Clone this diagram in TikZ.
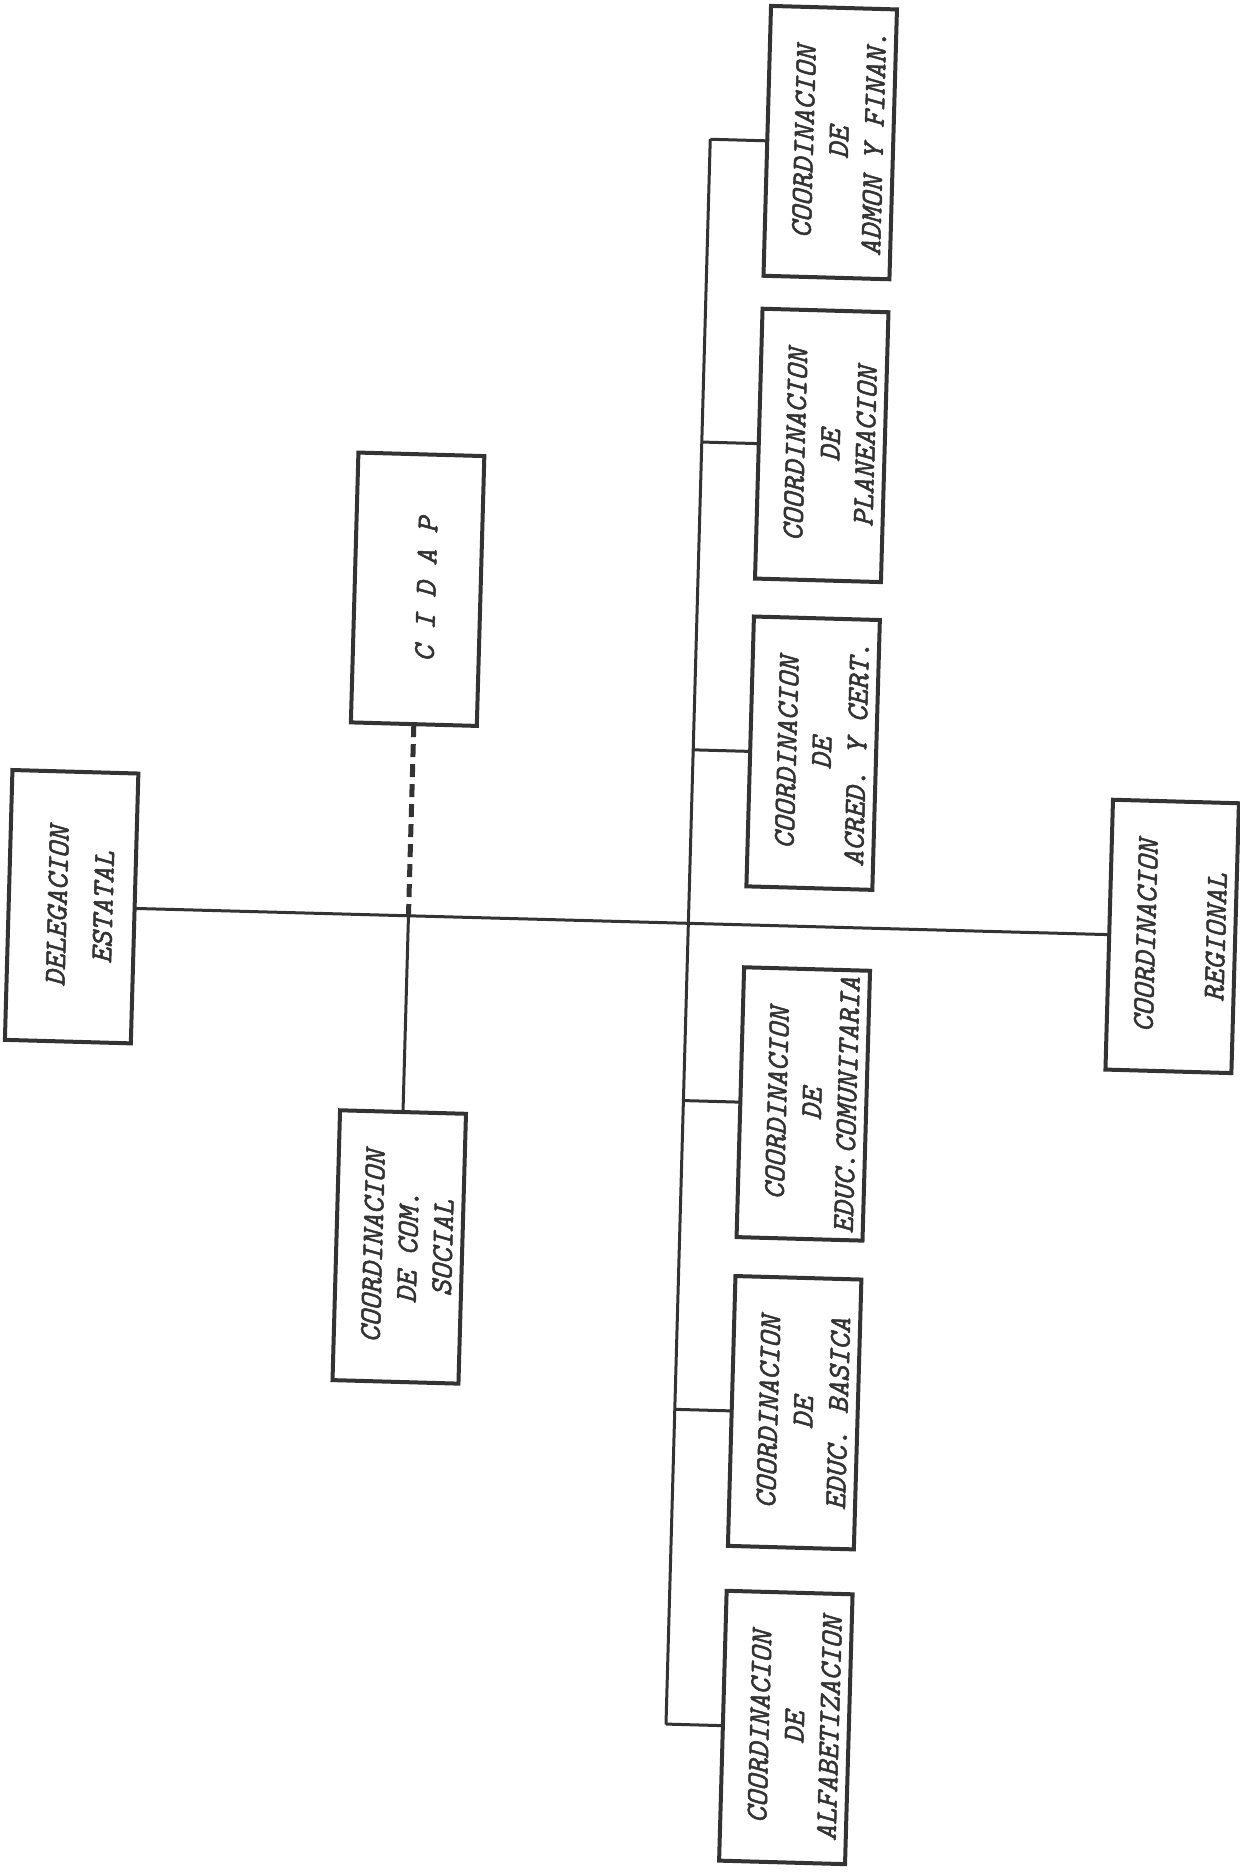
\documentclass[tikz,border=0pt]{standalone}
\usepackage{fontspec}
\usepackage{graphicx}
\usetikzlibrary{positioning}
\usetikzlibrary{calc}

\newfontface\maquina{lmmono10-italic.otf}[RawFeature={embolden=1.6}]
\newcommand{\caja}[1]{\hspace*{0.22cm}\rotatebox{90}{\begin{tabular}{@{}c@{}}#1\end{tabular}}\hspace*{-0.22cm}}

\tikzset{
	unidad/.style={draw=black!80, line width=0.08cm, minimum width=2.52cm, minimum height=5.4cm, inner sep=0pt, outer sep=0pt,
		text=black!80, font=\maquina\fontsize{17.4}{19.9}\selectfont},
	linea/.style={draw=black!80, line width=0.06cm},
	asesoria/.style={draw=black!80, line width=0.1cm, dash pattern=on 0.26cm off 0.14cm}
}

\begin{document}
\begin{tikzpicture}[x=0.02cm,y=0.02cm]
	\useasboundingbox (0,0) rectangle (1240,-1872);
	\begin{scope}[rotate around={-1.6:(620,-936)}, transform shape]
	\node[unidad] (deleg) at (71,-922) {\caja{DELEGACION\\[0.22cm] ESTATAL}};
	\node[unidad] (cidap) at (408,-595) {\caja{C I D A P}};
	\node[unidad] (comsocial) at (408,-1253) {\caja{COORDINACION\\DE COM.\\SOCIAL}};
	\node[unidad] (regional) at (1172,-921) {\caja{COORDINACION\\[0.7cm] REGIONAL}};
	\node[unidad] (admon) at (808,-137) {\caja{COORDINACION\\DE\\ADMON Y FINAN.}};
	\node[unidad, below=0.66cm of admon] (planea) {\caja{COORDINACION\\DE\\PLANEACION}};
	\node[unidad, below=0.76cm of planea] (acred) {\caja{COORDINACION\\DE\\ACRED. Y CERT.}};
	\node[unidad, below=1.62cm of acred] (comunit) {\caja{COORDINACION\\DE\\EDUC.COMUNITARIA}};
	\node[unidad, below=0.78cm of comunit] (basica) {\caja{COORDINACION\\DE\\EDUC. BASICA}};
	\node[unidad, below=0.9cm of basica] (alfab) {\caja{COORDINACION\\DE\\ALFABETIZACION}};

	\coordinate (bustop) at (688,-137);
	\coordinate (busbot) at (688,-1723);
	\coordinate (cruce) at ($(cidap.south)!(deleg.east)!(comsocial.north)$);

	% linea de mando
	\draw[linea] (deleg.east) -- (regional.west);
	\draw[linea] (bustop) -- (busbot);
	\draw[linea] (admon.west) -- ($(bustop)!(admon.west)!(busbot)$);
	\draw[linea] (planea.west) -- ($(bustop)!(planea.west)!(busbot)$);
	\draw[linea] (acred.west) -- ($(bustop)!(acred.west)!(busbot)$);
	\draw[linea] (comunit.west) -- ($(bustop)!(comunit.west)!(busbot)$);
	\draw[linea] (basica.west) -- ($(bustop)!(basica.west)!(busbot)$);
	\draw[linea] (alfab.west) -- ($(bustop)!(alfab.west)!(busbot)$);
	\draw[linea] (cruce) -- (comsocial.north);
	% asesoria
	\draw[asesoria] (cidap.south) -- (cruce);
	\end{scope}
\end{tikzpicture}
\end{document}
